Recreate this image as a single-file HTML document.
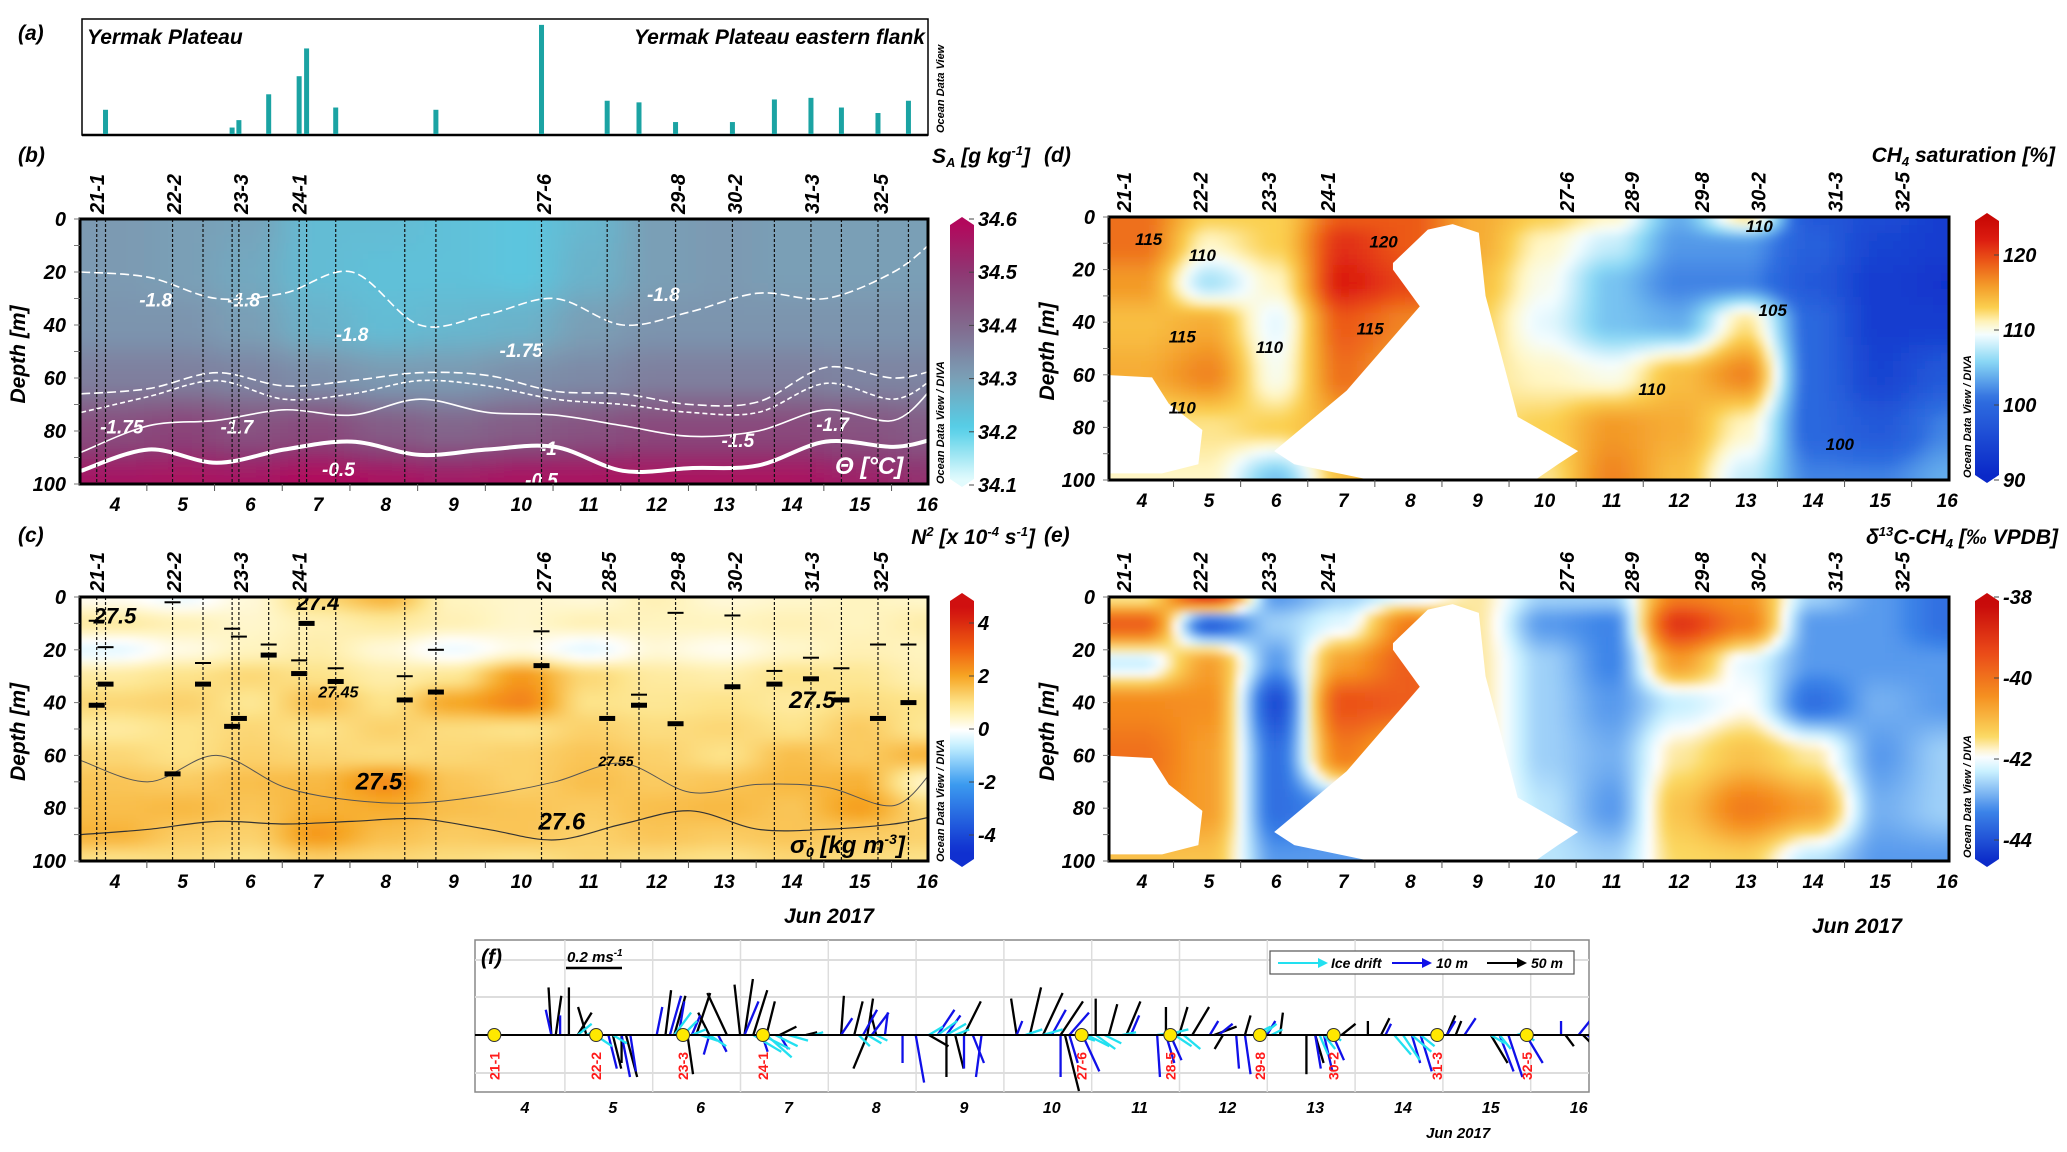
<!DOCTYPE html>
<html><head><meta charset="utf-8"><title>Yermak Plateau sections</title>
<style>
html,body{margin:0;padding:0;background:#fff;}
svg{display:block;}
text{font-family:"Liberation Sans Narrow","Liberation Sans",sans-serif;font-style:italic;font-weight:bold;fill:#000;}
.odv{font-family:"Liberation Sans",sans-serif;font-size:11px;font-weight:bold;}
</style></head>
<body>
<svg id="fig" xmlns="http://www.w3.org/2000/svg" width="2067" height="1152" viewBox="0 0 2067 1152">
<defs>
<filter id="blur" x="-5%" y="-5%" width="110%" height="110%"><feGaussianBlur stdDeviation="4"/></filter>
<clipPath id="clipB"><rect x="80" y="219" width="848" height="265"/></clipPath>
<clipPath id="clipC"><rect x="80" y="597" width="848" height="264"/></clipPath>
<clipPath id="clipD"><rect x="1109" y="217" width="840" height="263"/></clipPath>
<clipPath id="clipE"><rect x="1109" y="597" width="840" height="264"/></clipPath>
<clipPath id="clipF"><rect x="475" y="940" width="1114" height="152"/></clipPath>
</defs>
<!-- panel a -->
<text x="18" y="40" font-size="21" font-weight="normal">(a)</text>
<rect x="82" y="19" width="846" height="116" fill="none" stroke="#000" stroke-width="1.5"/>
<line x1="82" y1="135" x2="928" y2="135" stroke="#000" stroke-width="2.5"/>
<text x="87" y="44" font-size="21">Yermak Plateau</text>
<text x="925" y="44" font-size="21" text-anchor="end">Yermak Plateau eastern flank</text>
<text class="odv" transform="translate(944,133) rotate(-90)">Ocean Data View</text>
<g id="barsA"></g>

<!-- panel b -->
<text x="18" y="162" font-size="21" font-weight="normal">(b)</text>
<text x="1030" y="163" font-size="21" text-anchor="end">S<tspan font-size="13" dy="4">A</tspan><tspan dy="-4"> [g kg</tspan><tspan font-size="13" dy="-8">-1</tspan><tspan dy="8">]</tspan></text>
<g clip-path="url(#clipB)"><g id="heatB" filter="url(#blur)"></g><g id="contB"></g><g id="castB"></g></g>
<rect x="80" y="219" width="848" height="265" fill="none" stroke="#000" stroke-width="3"/>
<text x="835" y="474" font-size="24" fill="#fff" style="fill:#fff">Θ [°C]</text>
<g id="axB"></g>

<!-- panel c -->
<text x="18" y="542" font-size="21" font-weight="normal">(c)</text>
<text x="1035" y="544" font-size="21" text-anchor="end">N<tspan font-size="13" dy="-8">2</tspan><tspan dy="8"> [x 10</tspan><tspan font-size="13" dy="-8">-4</tspan><tspan dy="8"> s</tspan><tspan font-size="13" dy="-8">-1</tspan><tspan dy="8">]</tspan></text>
<g clip-path="url(#clipC)"><g id="heatC" filter="url(#blur)"></g><g id="contC"></g><g id="castC"></g></g>
<rect x="80" y="597" width="848" height="264" fill="none" stroke="#000" stroke-width="3"/>
<text x="790" y="853" font-size="24">σ<tspan font-size="14" dy="4">0</tspan><tspan dy="-4"> [kg m</tspan><tspan font-size="14" dy="-9">-3</tspan><tspan dy="9">]</tspan></text>
<g id="axC"></g>
<text x="784" y="923" font-size="21">Jun 2017</text>

<!-- panel d -->
<text x="1044" y="162" font-size="21" font-weight="normal">(d)</text>
<text x="2055" y="162" font-size="21" text-anchor="end">CH<tspan font-size="13" dy="4">4</tspan><tspan dy="-4"> saturation [%]</tspan></text>
<g clip-path="url(#clipD)"><g id="heatD" filter="url(#blur)"></g><g id="maskD"></g></g>
<rect x="1109" y="217" width="840" height="263" fill="none" stroke="#000" stroke-width="3"/>
<g id="axD"></g>

<!-- panel e -->
<text x="1044" y="542" font-size="21" font-weight="normal">(e)</text>
<text x="2058" y="544" font-size="21" text-anchor="end">δ<tspan font-size="13" dy="-8">13</tspan><tspan dy="8">C-CH</tspan><tspan font-size="13" dy="4">4</tspan><tspan dy="-4"> [‰ VPDB]</tspan></text>
<g clip-path="url(#clipE)"><g id="heatE" filter="url(#blur)"></g><g id="maskE"></g></g>
<rect x="1109" y="597" width="840" height="264" fill="none" stroke="#000" stroke-width="3"/>
<g id="axE"></g>
<text x="1812" y="933" font-size="21">Jun 2017</text>

<!-- panel f -->
<rect x="475" y="940" width="1114" height="152" fill="#fff" stroke="#888" stroke-width="1.5"/>
<g id="gridF"></g>
<g clip-path="url(#clipF)"><g id="sticksF"></g></g>
<line x1="475" y1="1035" x2="1589" y2="1035" stroke="#000" stroke-width="2"/>
<g id="stationsF"></g>
<text x="481" y="964" font-size="21" font-weight="normal">(f)</text>
<text x="567" y="962" font-size="15">0.2 ms<tspan font-size="10" dy="-6">-1</tspan></text>
<line id="scaleBar" x1="566" y1="968" x2="622" y2="968" stroke="#000" stroke-width="2.5"/>
<g>
<rect x="1270" y="951" width="304" height="23" fill="#fff" stroke="#555" stroke-width="1.2"/>
<line x1="1278" y1="963" x2="1322" y2="963" stroke="#22e0f0" stroke-width="2"/>
<polygon points="1328,963 1318,958 1318,968" fill="#22e0f0"/>
<text x="1331" y="968" font-size="14">Ice drift</text>
<line x1="1392" y1="963" x2="1426" y2="963" stroke="#1010e8" stroke-width="2"/>
<polygon points="1432,963 1422,958 1422,968" fill="#1010e8"/>
<text x="1436" y="968" font-size="14">10 m</text>
<line x1="1487" y1="963" x2="1521" y2="963" stroke="#000" stroke-width="2"/>
<polygon points="1527,963 1517,958 1517,968" fill="#000"/>
<text x="1531" y="968" font-size="14">50 m</text>
</g>
<text x="1426" y="1138" font-size="15">Jun 2017</text>
</svg>
<script>
// ---------------- DATA ----------------
const gridDays = [4,5,6,7,8,9,10,11,12,13,14,15,16];
// (a) bottom depth bars (relative heights)
const barDays = [3.86,5.73,5.83,6.27,6.72,6.83,7.26,8.74,10.30,11.27,11.74,12.28,13.12,13.74,14.28,14.73,15.27,15.72];
const barHeights = [75,20,43,123,179,265,82,75,338,103,98,37,37,107,112,82,65,103];
// cast lines (b,c)
const castDays = [3.73,3.86,4.85,5.30,5.73,5.83,6.27,6.72,6.83,7.26,8.28,8.74,10.30,11.27,11.74,12.28,13.12,13.74,14.28,14.73,15.27,15.72];
const n2MaxDepth = [41,33,67,33,49,46,22,29,10,32,39,36,26,46,41,48,34,33,31,39,46,40];
const n2SecondDepth = [9,19,2,25,12,15,18,24,null,27,30,20,13,null,37,6,7,28,23,27,18,18];
// station labels
const stationNamesB = ["21-1","22-2","23-3","24-1","27-6","29-8","30-2","31-3","32-5"];
const stationDaysB = [3.72,4.86,5.85,6.71,10.32,12.30,13.14,14.28,15.30];
const stationNamesC = ["21-1","22-2","23-3","24-1","27-6","28-5","29-8","30-2","31-3","32-5"];
const stationDaysC = [3.72,4.86,5.85,6.71,10.32,11.28,12.30,13.14,14.28,15.30];
const stationNamesD = ["21-1","22-2","23-3","24-1","27-6","28-9","29-8","30-2","31-3","32-5"];
const stationDaysD = [3.72,4.86,5.88,6.76,10.32,11.29,12.33,13.17,14.32,15.32];
// (b) absolute salinity
const depthsB = [0,20,40,60,80,100];
const salinity = [
 [34.31,34.30,34.29,34.24,34.24,34.23,34.22,34.25,34.30,34.31,34.30,34.30,34.30],
 [34.31,34.30,34.28,34.24,34.23,34.23,34.22,34.26,34.30,34.31,34.30,34.30,34.30],
 [34.32,34.32,34.30,34.26,34.24,34.25,34.26,34.30,34.32,34.32,34.32,34.32,34.32],
 [34.36,34.36,34.35,34.33,34.31,34.31,34.33,34.34,34.36,34.36,34.36,34.35,34.35],
 [34.46,34.48,34.45,34.47,34.43,34.41,34.43,34.45,34.47,34.47,34.47,34.45,34.43],
 [34.57,34.58,34.57,34.60,34.58,34.56,34.58,34.58,34.58,34.58,34.58,34.55,34.52]];
const contourDays = [3.5,4.5,5.5,6.5,7.5,8.5,9.5,10.5,11.5,12.5,13.5,14.5,15.5,16.1];
const theta_m1 = [95,87,92,87,84,89,87,86,95,94,93,84,86,83];
const theta_m15 = [88,78,76,72,74,68,73,74,78,82,80,72,76,63];
const theta_m17 = [73,67,61,68,66,61,63,68,70,73,73,62,68,60];
const theta_m175 = [66,64,58,63,61,58,59,65,66,70,69,56,60,57];
const theta_m18 = [20,22,30,28,20,40,36,30,40,35,28,30,20,8];
// (c) N2
const depthsC = [0,10,20,30,40,50,60,70,80,90,100];
const n2 = [
 [0.1,-0.2,0.3,1.2,1.8,0.5,0.4,0.3,0.6,0.3,0.4,0.5,0.4],
 [0.8,0.6,0.4,0.6,0.8,0.6,0.4,0.6,0.5,0.5,0.6,0.5,0.7],
 [-0.3,0.2,0.5,0.7,0.3,-0.2,0.2,-0.3,0.3,0.1,0.4,0.6,0.5],
 [0.8,1.0,1.2,1.0,0.7,0.9,2.2,1.2,0.8,0.7,1.0,0.9,0.6],
 [1.2,1.3,0.9,1.6,1.0,2.0,2.5,1.0,0.9,1.0,0.8,1.1,1.0],
 [0.8,1.0,1.2,1.0,1.3,1.1,1.0,1.3,1.1,1.2,1.0,1.4,0.9],
 [1.2,1.0,1.3,1.2,1.1,1.2,1.3,1.5,1.3,1.0,1.6,1.4,1.8],
 [1.5,1.4,1.6,1.7,2.4,1.5,1.3,1.6,1.4,1.5,1.7,1.8,0.4],
 [1.6,1.7,1.5,1.8,1.9,1.6,1.5,1.4,1.6,1.7,1.5,2.1,1.2],
 [1.8,1.4,1.3,2.2,1.6,1.4,1.5,1.3,1.5,1.4,1.5,1.4,1.3],
 [1.0,1.1,1.0,1.3,1.2,1.1,1.0,1.2,1.1,1.0,1.2,1.1,1.0]];
const sigma_276 = [90,88,85,86,85,84,88,92,86,81,88,88,86,83];
const sigma_2755 = [62,70,60,72,77,78,75,70,63,74,71,72,79,65];
// (d) CH4 saturation
const depthsDE = [0,10,25,40,60,80,100];
const ch4sat = [
 [117,112,112,118,118,114,112,110,103,111,97,95,93],
 [117,110,112,120,118,114,110,107,102,102,98,94,93],
 [115,106,110,121,119,113,109,104,101,101,97,93,92],
 [113,114,108,118,116,112,108,104,103,111,99,93,93],
 [114,116,109,117,114,111,110,109,113,116,99,94,97],
 [111,111,112,114,113,111,112,115,114,110,99,97,101],
 [110,110,104,113,113,111,111,116,113,107,101,101,103]];
// (e) d13C-CH4
const d13c = [
 [-41.5,-38.8,-43.0,-42.5,-42.0,-41.5,-42.5,-42.5,-40.0,-40.3,-42.5,-43.0,-43.5],
 [-39.5,-43.8,-42.5,-42.0,-40.0,-41.5,-43.0,-43.2,-38.8,-40.0,-43.0,-43.0,-43.5],
 [-42.2,-40.5,-43.0,-40.5,-39.5,-41.5,-42.5,-43.2,-40.5,-42.0,-43.0,-43.0,-43.0],
 [-40.2,-40.3,-44.0,-39.3,-39.5,-41.5,-42.5,-43.0,-42.2,-41.8,-43.5,-42.8,-43.0],
 [-39.8,-40.5,-43.5,-40.0,-41.0,-41.5,-42.5,-42.8,-41.5,-41.0,-41.5,-43.0,-42.5],
 [-40.0,-40.5,-43.5,-43.0,-42.0,-41.5,-42.3,-43.0,-41.0,-40.0,-40.5,-42.8,-42.5],
 [-41.0,-41.0,-43.0,-43.0,-42.0,-41.5,-42.3,-42.5,-41.3,-41.2,-42.3,-43.0,-43.0]];
// no-data mask (day, depth)
const maskCenterDays = [7.74,8.26,8.63,9.02,9.12,9.6,10.5,10.2,9.8,7.6,6.27,5.97,7.05,8.14,7.74];
const maskCenterDepths = [17.5,4.8,2.7,6,30,76,89,94,101,101,94,89,66,34,20];
const maskLeftDays = [3.4,4.15,4.4,4.9,4.84,4.3,3.4];
const maskLeftDepths = [60,61,71,81,94,97.5,97.5];
// (f) sticks [day, u, v] m/s
const ice = [[4.6,0.05,0.04],[4.7,0.04,0.02],[4.8,0.06,-0.04],[5.0,0.05,-0.03],[5.7,0.06,0.08],[5.8,0.05,0.05],[5.9,0.05,0.02],[6.0,0.06,-0.02],[6.1,0.06,-0.04],[6.6,0.1,-0.06],[6.7,0.1,-0.05],[6.75,0.09,-0.08],[6.85,0.08,-0.04],[7.0,0.07,-0.02],[7.3,0.03,0.01],[7.8,0.04,-0.04],[7.9,0.05,-0.03],[8.0,0.04,-0.02],[8.6,0.05,0.03],[8.7,0.07,0.05],[8.8,0.07,0.04],[8.9,0.05,0.02],[9.7,0.06,0.02],[9.9,0.07,0.02],[10.3,0.06,-0.02],[10.4,0.08,-0.04],[10.5,0.07,-0.05],[10.6,0.06,-0.03],[10.8,0.05,0.01],[11.2,0.08,0.01],[11.3,0.08,0.02],[11.4,0.06,-0.04],[11.5,0.06,-0.05],[12.3,0.06,0.03],[12.4,0.05,0.04],[12.5,0.04,0.02],[13.05,0.03,-0.07],[13.1,0.04,-0.05],[13.2,0.03,-0.02],[13.9,0.06,-0.07],[14.0,0.06,-0.09],[14.1,0.07,-0.06],[14.2,0.05,-0.04],[15.0,0.05,-0.03],[15.1,0.04,-0.05],[15.3,0.03,0.01],[15.4,0.03,-0.02]];
const vel10 = [[4.3,-0.02,0.09],[4.4,0.0,0.07],[4.95,0.03,-0.12],[5.1,0.03,-0.15],[5.2,0.02,-0.13],[5.5,0.02,0.1],[5.65,0.04,0.14],[5.75,0.02,0.12],[5.9,0.03,0.07],[6.1,-0.02,-0.07],[6.2,0.03,-0.06],[6.5,0.05,0.12],[6.7,0.02,-0.06],[6.9,0.03,-0.05],[7.6,0.04,0.06],[7.85,0.05,0.09],[7.95,0.06,0.08],[8.1,0.01,0.08],[8.3,0.0,-0.1],[8.45,0.03,-0.17],[8.7,0.06,0.09],[8.8,0.05,0.07],[9.0,0.0,-0.12],[9.1,0.04,-0.1],[9.2,-0.02,-0.15],[9.6,0.02,0.05],[10.0,0.05,0.09],[10.2,0.07,0.08],[10.1,0.0,-0.15],[10.2,0.03,-0.1],[10.35,0.06,-0.13],[10.9,0.03,0.07],[11.2,0.01,-0.15],[11.3,0.03,-0.1],[11.35,0.04,-0.09],[11.8,0.03,0.05],[11.9,0.05,0.04],[12.1,0.01,-0.12],[12.2,0.02,-0.14],[12.45,0.03,0.05],[13.0,0.02,-0.12],[13.1,0.03,-0.13],[13.2,0.04,-0.09],[13.8,0.02,0.04],[14.1,0.03,-0.1],[14.2,0.04,-0.13],[14.5,0.03,0.05],[14.7,0.04,0.06],[15.1,0.05,-0.13],[15.2,0.05,-0.15],[15.4,0.06,-0.1],[15.8,0.0,0.05],[16.0,0.04,0.05],[16.1,0.03,-0.02]];
const vel50 = [[4.3,-0.01,0.17],[4.35,0.02,0.14],[4.5,0.0,0.17],[4.6,0.05,0.08],[4.7,-0.03,0.1],[5.0,0.03,-0.12],[5.1,0.0,-0.1],[5.15,0.04,-0.15],[5.6,0.02,0.16],[5.7,0.04,0.14],[5.85,0.02,-0.14],[5.95,0.05,0.15],[6.1,-0.04,0.08],[6.3,-0.07,0.15],[6.45,-0.02,0.18],[6.5,0.03,0.2],[6.6,0.05,0.16],[6.75,0.03,0.12],[6.9,0.06,0.03],[7.2,0.04,0.01],[7.6,0.01,0.14],[7.75,0.03,0.12],[7.9,0.02,0.13],[8.0,-0.02,0.08],[7.9,-0.05,-0.12],[8.6,0.07,-0.04],[8.8,0.0,-0.15],[8.9,0.03,-0.12],[9.0,0.06,0.12],[9.6,-0.02,0.13],[9.75,0.04,0.17],[9.9,0.07,0.15],[10.1,0.08,0.12],[10.15,0.05,-0.2],[10.5,0.0,0.13],[10.65,0.03,0.11],[10.85,0.05,0.12],[11.3,0.0,0.1],[11.45,0.03,0.1],[11.6,0.06,0.1],[11.85,0.08,0.03],[11.95,-0.03,-0.05],[12.2,0.02,0.07],[12.6,0.01,0.08],[12.9,0.0,-0.14],[13.0,0.03,-0.1],[13.3,0.05,0.04],[13.6,0.0,0.05],[13.75,0.03,0.06],[14.5,0.03,0.07],[14.6,0.02,0.05],[15.0,0.06,-0.1],[15.85,0.03,-0.04],[16.05,0.03,-0.03]];
const stationNamesF = ["21-1","22-2","23-3","24-1","27-6","28-5","29-8","30-2","31-3","32-5"];
const stationDaysF = [3.65,4.81,5.80,6.71,10.34,11.35,12.37,13.21,14.39,15.41];
const dayTicks = [4,5,6,7,8,9,10,11,12,13,14,15,16];
const depthTicks = [0,20,40,60,80,100];

// ---------------- helpers ----------------
const NS='http://www.w3.org/2000/svg';
function mk(tag, attrs, parent){const e=document.createElementNS(NS,tag);for(const k in attrs)e.setAttribute(k,attrs[k]);if(parent)parent.appendChild(e);return e;}
function $(id){return document.getElementById(id);}
function hex(h){return [parseInt(h.substr(1,2),16),parseInt(h.substr(3,2),16),parseInt(h.substr(5,2),16)];}
function cmapColor(cm,v){
  if(v<=cm[0][0])return cm[0][1];
  for(let i=1;i<cm.length;i++){if(v<=cm[i][0]){const t=(v-cm[i-1][0])/(cm[i][0]-cm[i-1][0]);const a=hex(cm[i-1][1]),b=hex(cm[i][1]);return 'rgb('+a.map((c,j)=>Math.round(c+(b[j]-c)*t)).join(',')+')';}}
  return cm[cm.length-1][1];
}
function fracIndex(arr,v){
  if(v<=arr[0])return 0;if(v>=arr[arr.length-1])return arr.length-1;
  for(let i=1;i<arr.length;i++){if(v<=arr[i])return i-1+(v-arr[i-1])/(arr[i]-arr[i-1]);}
  return arr.length-1;
}
function interp(grid,days,depths,d,z){
  const fi=fracIndex(days,d),fj=fracIndex(depths,z);
  const i0=Math.floor(fi),j0=Math.floor(fj),i1=Math.min(i0+1,days.length-1),j1=Math.min(j0+1,depths.length-1);
  const ti=fi-i0,tj=fj-j0;
  const si=ti*ti*(3-2*ti),sj=tj*tj*(3-2*tj);
  const a=grid[j0][i0]*(1-si)+grid[j0][i1]*si,b=grid[j1][i0]*(1-si)+grid[j1][i1]*si;
  return a*(1-sj)+b*sj;
}
function axis(x4,ppd,y0,ppm){return {x:d=>x4+(d-4)*ppd,y:z=>y0+z*ppm,dx:x=>4+(x-x4)/ppd,dz:y=>(y-y0)/ppm};}
const AB=axis(115,67.7,219,2.65), AC=axis(115,67.7,597,2.64), AD=axis(1142,67.1,217,2.63), AE=axis(1142,67.1,597,2.64);
function smoothPath(pts){
  let d='M'+pts[0][0].toFixed(1)+','+pts[0][1].toFixed(1);
  for(let i=0;i<pts.length-1;i++){const p0=pts[Math.max(i-1,0)],p1=pts[i],p2=pts[i+1],p3=pts[Math.min(i+2,pts.length-1)];
    const c1=[p1[0]+(p2[0]-p0[0])/6,p1[1]+(p2[1]-p0[1])/6],c2=[p2[0]-(p3[0]-p1[0])/6,p2[1]-(p3[1]-p1[1])/6];
    d+=' C'+c1.map(v=>v.toFixed(1)).join(',')+' '+c2.map(v=>v.toFixed(1)).join(',')+' '+p2[0].toFixed(1)+','+p2[1].toFixed(1);}
  return d;
}
function heat(g,A,grid,depths,x0,x1,y0,y1,cm,name){
  const s=8;
  for(let px=x0-8;px<x1+8;px+=s){for(let py=y0-8;py<y1+8;py+=s){
    const v=interp(grid,gridDays,depths,A.dx(px+s/2),A.dz(py+s/2));
    const r=mk('rect',{x:px,y:py,width:s+1,height:s+1,fill:cmapColor(cm,v)},g);
    
    
  }}
}
function colorbar(x,y0,y1,vTop,vBot,cm,ticks,fmt,name,yOf){
  const id='grad'+name;
  const lg=mk('linearGradient',{id:id,x1:0,y1:0,x2:0,y2:1},document.querySelector('defs'));
  for(let k=0;k<=40;k++){const v=vTop+(vBot-vTop)*k/40;mk('stop',{offset:(k/40*100)+'%','stop-color':cmapColor(cm,v)},lg);}
  const g=mk('g',{},$('fig'));
  
  
  const w=24;
  mk('polygon',{points:`${x},${y0+8} ${x+w/2},${y0} ${x+w},${y0+8} ${x+w},${y1-8} ${x+w/2},${y1} ${x},${y1-8}`,fill:'url(#'+id+')'},g);
  ticks.forEach(t=>{const y=yOf(t);
    mk('line',{x1:x+w-5,y1:y,x2:x+w,y2:y,stroke:'#444','stroke-width':1},g);
    const tx=mk('text',{x:x+w+4,y:y+7,'font-size':20},g);tx.textContent=fmt(t);
    
    
  });
}
function axes(gid,A,x0,x1,y0,y1,names,days,labelY){
  const g=$(gid);
  for(let k=0;k<=12;k++){const x=A.x(3.5+k)-2;if(x<x0||x>x1+1)continue;mk('line',{x1:x,y1:y1,x2:x,y2:y1+7,stroke:'#555','stroke-width':1},g);}
  dayTicks.forEach(d=>{const t=mk('text',{x:A.x(d),y:y1+27,'font-size':19,'text-anchor':'middle'},g);t.textContent=d;
    
    });
  for(let z=0;z<=100;z+=10){const y=A.y(z);mk('line',{x1:x0-6,y1:y,x2:x0,y2:y,stroke:'#777','stroke-width':1},g);}
  depthTicks.forEach(z=>{const t=mk('text',{x:x0-14,y:A.y(z)+7,'font-size':20,'text-anchor':'end'},g);t.textContent=z;
    
    });
  const yt=mk('text',{transform:`translate(${x0-55},${(y0+y1)/2+52}) rotate(-90)`,'font-size':21},g);yt.textContent='Depth [m]';
  
  
  names.forEach((n,i)=>{const t=mk('text',{transform:`translate(${A.x(days[i])+8},${labelY}) rotate(-90)`,'font-size':20},g);t.textContent=n;
    
    });
}
function odv(x,y,txt,name){const t=mk('text',{class:'odv',transform:`translate(${x},${y}) rotate(-90)`},$('fig'));t.textContent=txt;
  
  }

// ---------------- colormaps ----------------
const cmB=[[34.1,'#e2fbfd'],[34.2,'#55cfe8'],[34.3,'#7a9fb6'],[34.4,'#826a8e'],[34.5,'#8d3a74'],[34.6,'#b2085c']];
const cmC=[[-4.5,'#1030d0'],[-2,'#3c9cf0'],[-0.6,'#c4f0ff'],[0,'#ffffff'],[0.5,'#fff4c0'],[1,'#fde38a'],[2,'#f6a623'],[3,'#f06010'],[4.5,'#d01010']];
const cmD=[[90,'#0a28c8'],[100,'#2f6ee0'],[105,'#8ad8f5'],[108.5,'#f4fdff'],[110,'#fff7c8'],[112,'#fbd050'],[115,'#f39a28'],[118,'#ec5a18'],[121,'#dc1c10'],[125,'#c00000']];
const cmE=[[-44.5,'#0a28c8'],[-43.2,'#3c84e8'],[-42.2,'#c8f0ff'],[-41.8,'#ffffff'],[-41.3,'#fbd860'],[-40.3,'#f59020'],[-39.2,'#ea4a18'],[-38,'#c80a0a']];

// ---------------- panel a ----------------
barDays.forEach((d,i)=>{const x=AB.x(d),h=barHeights[i]/350*113;
  const r=mk('rect',{x:x-2.5,y:134-h,width:5,height:h,fill:'#1ba3a3'},$('barsA'));
  
  });

// ---------------- panel b ----------------
heat($('heatB'),AB,salinity,depthsB,80,928,219,484,cmB,'salinity-cell');
function contour(g,A,vals,style,name){
  const p=mk('path',Object.assign({d:smoothPath(contourDays.map((d,i)=>[A.x(d),A.y(vals[i])])),fill:'none'},style),g);
  
  
}
contour($('contB'),AB,theta_m18,{stroke:'#fff','stroke-width':1.6,'stroke-dasharray':'9,4'},'contour-theta-minus1.8');
contour($('contB'),AB,theta_m175,{stroke:'#fff','stroke-width':1.6,'stroke-dasharray':'9,4'},'contour-theta-minus1.75');
contour($('contB'),AB,theta_m17,{stroke:'#fff','stroke-width':1.6,'stroke-dasharray':'5,3'},'contour-theta-minus1.7');
contour($('contB'),AB,theta_m15,{stroke:'#fff','stroke-width':1.6},'contour-theta-minus1.5');
contour($('contB'),AB,theta_m1,{stroke:'#fff','stroke-width':4},'contour-theta-minus1');
castDays.forEach(d=>{const l=mk('line',{x1:AB.x(d),y1:219,x2:AB.x(d),y2:484,stroke:'#111','stroke-width':1.2,'stroke-dasharray':'3,2'},$('castB'));
  
  });
[['-1.8',4.6,33],['-1.8',5.9,33],['-1.8',7.5,46],['-1.75',10.0,52],['-1.8',12.1,31],['-1.75',4.1,81],['-1.7',5.8,81],['-1.5',13.2,86],['-1',10.4,89],['-0.5',7.3,97],['-1.7',14.6,80],['-0.5',10.3,101]].forEach(a=>{
  const t=mk('text',{x:AB.x(a[1]),y:AB.y(a[2]),'font-size':19,style:'fill:#fff','text-anchor':'middle'},$('contB'));t.textContent=a[0];
  
  });
axes('axB',AB,80,928,219,484,stationNamesB,stationDaysB,214);
colorbar(950,217,487,34.615,34.085,cmB,[34.6,34.5,34.4,34.3,34.2,34.1],v=>v.toFixed(1),'salinity-colorbar',v=>219+(34.6-v)*532);
odv(944,484,'Ocean Data View / DIVA','odv-credit-b');

// ---------------- panel c ----------------
heat($('heatC'),AC,n2,depthsC,80,928,597,861,cmC,'n2-cell');
contour($('contC'),AC,sigma_276,{stroke:'#333','stroke-width':1.2},'contour-sigma-27.6');
contour($('contC'),AC,sigma_2755,{stroke:'#555','stroke-width':1},'contour-sigma-27.55');
castDays.forEach((d,i)=>{const x=AC.x(d);
  const l=mk('line',{x1:x,y1:597,x2:x,y2:861,stroke:'#111','stroke-width':1.2,'stroke-dasharray':'3,2'},$('castC'));
  
  
  const m=mk('rect',{x:x-8,y:AC.y(n2MaxDepth[i])-2.5,width:16,height:5,fill:'#000'},$('castC'));
  
  
  if(n2SecondDepth[i]!==null){const s=mk('rect',{x:x-8,y:AC.y(n2SecondDepth[i])-1,width:16,height:2,fill:'#000'},$('castC'));
    
    }
});
[['27.5',4.0,10,22],['27.4',7.0,5,22],['27.45',7.3,38,16],['27.5',7.9,73,24],['27.55',11.4,64,14],['27.6',10.6,88,24],['27.5',14.3,42,24]].forEach(a=>{
  const t=mk('text',{x:AC.x(a[1]),y:AC.y(a[2]),'font-size':a[3],'text-anchor':'middle'},$('contC'));t.textContent=a[0];
  
  });
axes('axC',AC,80,928,597,861,stationNamesC,stationDaysC,592);
colorbar(950,593,867,5.1,-5.1,cmC,[4,2,0,-2,-4],v=>String(v),'n2-colorbar',v=>729-v*26.5);
odv(944,862,'Ocean Data View / DIVA','odv-credit-c');

// ---------------- panels d,e ----------------
function mask(g,A,ds,zs,name){const p=mk('polygon',{points:ds.map((d,i)=>A.x(d)+','+A.y(zs[i])).join(' '),fill:'#fff'},g);
  
  }
heat($('heatD'),AD,ch4sat,depthsDE,1109,1949,217,480,cmD,'ch4-cell');
mask($('maskD'),AD,maskCenterDays,maskCenterDepths,'no-data-mask');
mask($('maskD'),AD,maskLeftDays,maskLeftDepths,'no-data-mask-left');
[['115',4.1,8],['110',4.9,14],['120',7.6,9],['115',7.4,42],['115',4.6,45],['110',5.9,49],['110',4.6,72],['105',13.4,35],['110',11.6,65],['100',14.4,86],['110',13.2,3]].forEach(a=>{
  const t=mk('text',{x:AD.x(a[1]),y:AD.y(a[2])+7,'font-size':17,'text-anchor':'middle'},$('maskD'));t.textContent=a[0];
  
  });
axes('axD',AD,1109,1949,217,480,stationNamesD,stationDaysD,212);
colorbar(1975,213,483,124.5,89,cmD,[120,110,100,90],v=>String(v),'ch4-colorbar',v=>480-(v-90)*7.5);
odv(1971,478,'Ocean Data View / DIVA','odv-credit-d');

heat($('heatE'),AE,d13c,depthsDE,1109,1949,597,861,cmE,'d13c-cell');
mask($('maskE'),AE,maskCenterDays,maskCenterDepths,'no-data-mask');
mask($('maskE'),AE,maskLeftDays,maskLeftDepths,'no-data-mask-left');
axes('axE',AE,1109,1949,597,861,stationNamesD,stationDaysD,592);
colorbar(1975,593,867,-37.7,-44.6,cmE,[-38,-40,-42,-44],v=>String(v),'d13c-colorbar',v=>597+(-38-v)*40.5);
odv(1971,858,'Ocean Data View / DIVA','odv-credit-e');

// ---------------- panel f ----------------
const xF=d=>525+(d-4)*87.8, yF0=1035, sc=280;
[960,997,1073].forEach(y=>{const l=mk('line',{x1:475,y1:y,x2:1589,y2:y,stroke:'#ddd','stroke-width':2},$('gridF'));
  
  });
for(let k=0;k<12;k++){const x=xF(4.5+k)-4;const l=mk('line',{x1:x,y1:940,x2:x,y2:1092,stroke:'#ddd','stroke-width':1.5},$('gridF'));
  
  }
dayTicks.forEach(d=>{const t=mk('text',{x:xF(d),y:1113,'font-size':16,'text-anchor':'middle'},$('gridF'));t.textContent=d;
  
  });
function sticks(arr,color,name){arr.forEach(s=>{const x=xF(s[0]);
  const l=mk('line',{x1:x,y1:yF0,x2:x+s[1]*sc,y2:yF0-s[2]*sc,stroke:color,'stroke-width':2.3},$('sticksF'));
  
  });}
sticks(vel50,'#000','stick-50m');
sticks(vel10,'#1010e8','stick-10m');
sticks(ice,'#22e0f0','stick-ice-drift');
stationNamesF.forEach((n,i)=>{const x=xF(stationDaysF[i]);
  const c=mk('circle',{cx:x,cy:yF0,r:6.5,fill:'#ffe800',stroke:'#333','stroke-width':1},$('stationsF'));
  
  
  const t=mk('text',{transform:`translate(${x+5},1080) rotate(-90)`,'font-size':14,style:'fill:#ff1a1a;font-style:normal;font-family:Liberation Sans,sans-serif'},$('stationsF'));t.textContent=n;
  
  });
</script>
</body></html>
